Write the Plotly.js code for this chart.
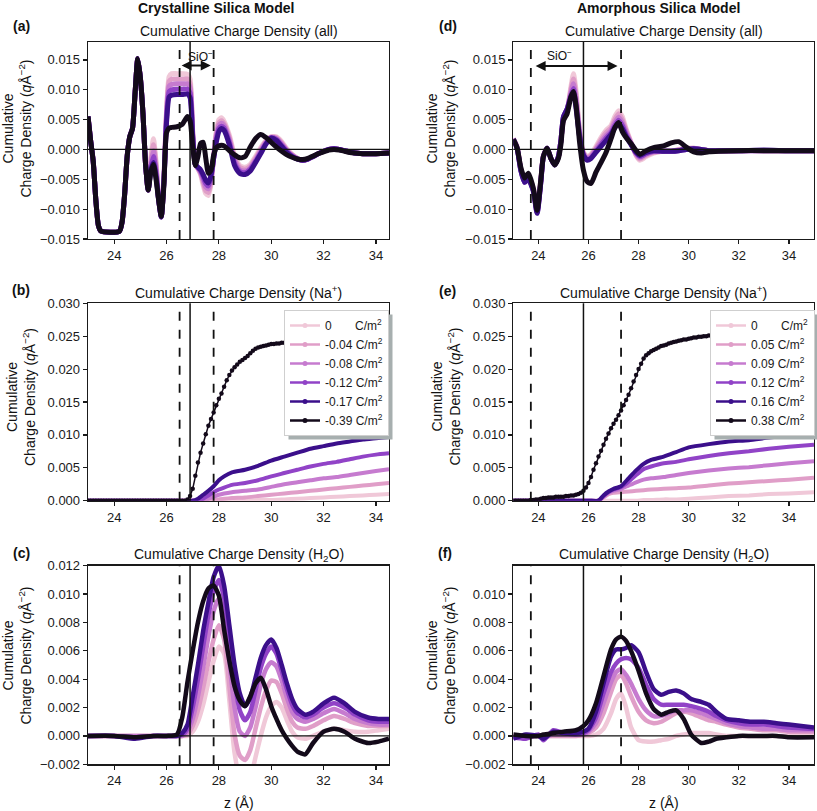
<!DOCTYPE html>
<html><head><meta charset="utf-8">
<script src="https://cdn.plot.ly/plotly-3.0.1.min.js"></script>
<style>html,body{margin:0;padding:0;background:#fff}#chart{width:817px;height:811px}</style>
</head><body><div id="chart"></div>
<script>
// ---------------- DATA ----------------
const colors = ['#f0c8d8','#e09ec8','#c67bcf','#9143c7','#3b0f8b','#130a1a'];
const crysNames = ['0\u2007\u2007\u2007 C/m<sup>2</sup>','-0.04 C/m<sup>2</sup>','-0.08 C/m<sup>2</sup>','-0.12 C/m<sup>2</sup>','-0.17 C/m<sup>2</sup>','-0.39 C/m<sup>2</sup>'];
const amorNames = ['0\u2007\u2007\u2007 C/m<sup>2</sup>','0.05 C/m<sup>2</sup>','0.09 C/m<sup>2</sup>','0.12 C/m<sup>2</sup>','0.16 C/m<sup>2</sup>','0.38 C/m<sup>2</sup>'];
const xTicks = [24,26,28,30,32,34];

// (a) crystalline, all
const zA = [23.0,23.1,23.2,23.3,23.4,23.5,24.2,24.3,24.4,24.5,24.6,24.7,24.8,24.9,25.0,25.1,25.2,25.3,
25.4,25.5,25.6,25.7,25.8,25.9,26.0,26.1,26.2,26.4,26.6,26.8,26.9,27.0,27.1,27.2,27.3,27.4,27.5,27.6,27.7,27.8,27.9,28.0,28.1,28.2,
28.4,28.6,28.8,29.0,29.2,29.4,29.6,29.8,30.0,30.2,30.4,30.6,30.8,31.0,31.2,31.4,31.6,31.8,32.0,32.2,32.4,32.6,32.8,33.0,33.2,33.5,34.0,34.5];
const a0 = [0.0055,0.0015,-0.0020,-0.0085,-0.0128,-0.0137,-0.0137,-0.0122,-0.0075,-0.0010,0.0022,0.0035,0.0095,0.0152,0.0120,0.0060,-0.0025,-0.0068,
-0.0015,0.0018,-0.0020,-0.0082,-0.0113,-0.0050,0.0065,0.0122,0.0127,0.0127,0.0127,0.0126,0.0118,0.0030,-0.0025,-0.0032,-0.0042,-0.0060,-0.0074,-0.0077,-0.0058,-0.0012,0.0030,0.0050,0.0053,0.0047,
0.0024,-0.0010,-0.0027,-0.0030,-0.0025,-0.0012,0.0003,0.0015,0.0021,0.0021,0.0013,0.0001,-0.0008,-0.0015,-0.0018,-0.0016,-0.0012,-0.0007,-0.0003,0.0000,0.0001,0.0000,-0.0002,-0.0004,-0.0006,-0.0007,-0.0007,-0.0006];
const a1 = [0.0055,0.0015,-0.0020,-0.0085,-0.0128,-0.0137,-0.0137,-0.0122,-0.0075,-0.0010,0.0022,0.0035,0.0095,0.0152,0.0120,0.0060,-0.0025,-0.0068,
-0.0020,0.0008,-0.0026,-0.0083,-0.0113,-0.0051,0.0060,0.0114,0.0118,0.0118,0.0118,0.0118,0.0110,0.0028,-0.0025,-0.0032,-0.0040,-0.0055,-0.0069,-0.0072,-0.0054,-0.0013,0.0025,0.0045,0.0048,0.0043,
0.0020,-0.0014,-0.0030,-0.0033,-0.0028,-0.0015,0.0000,0.0013,0.0021,0.0020,0.0011,-0.0001,-0.0009,-0.0015,-0.0018,-0.0016,-0.0012,-0.0007,-0.0003,0.0000,0.0001,0.0000,-0.0002,-0.0004,-0.0006,-0.0007,-0.0007,-0.0006];
const a2 = [0.0055,0.0015,-0.0020,-0.0085,-0.0128,-0.0137,-0.0137,-0.0122,-0.0075,-0.0010,0.0022,0.0035,0.0095,0.0152,0.0120,0.0060,-0.0025,-0.0068,
-0.0025,-0.0002,-0.0032,-0.0084,-0.0113,-0.0052,0.0055,0.0106,0.0109,0.0110,0.0110,0.0110,0.0103,0.0025,-0.0025,-0.0031,-0.0038,-0.0051,-0.0063,-0.0066,-0.0050,-0.0014,0.0021,0.0040,0.0044,0.0040,
0.0016,-0.0018,-0.0034,-0.0036,-0.0031,-0.0018,-0.0002,0.0012,0.0020,0.0018,0.0009,-0.0002,-0.0010,-0.0015,-0.0018,-0.0016,-0.0012,-0.0007,-0.0003,0.0000,0.0001,0.0000,-0.0002,-0.0004,-0.0006,-0.0007,-0.0007,-0.0006];
const a3 = [0.0055,0.0015,-0.0020,-0.0085,-0.0128,-0.0137,-0.0137,-0.0122,-0.0075,-0.0010,0.0022,0.0035,0.0095,0.0152,0.0120,0.0060,-0.0025,-0.0068,
-0.0031,-0.0012,-0.0039,-0.0085,-0.0113,-0.0054,0.0050,0.0097,0.0100,0.0101,0.0101,0.0101,0.0095,0.0022,-0.0025,-0.0030,-0.0036,-0.0046,-0.0057,-0.0061,-0.0046,-0.0015,0.0016,0.0035,0.0039,0.0036,
0.0012,-0.0023,-0.0037,-0.0039,-0.0033,-0.0020,-0.0005,0.0010,0.0020,0.0017,0.0007,-0.0003,-0.0011,-0.0016,-0.0018,-0.0016,-0.0012,-0.0007,-0.0003,0.0000,0.0001,0.0000,-0.0002,-0.0004,-0.0006,-0.0007,-0.0007,-0.0006];
const a4 = [0.0055,0.0015,-0.0020,-0.0085,-0.0128,-0.0137,-0.0137,-0.0122,-0.0075,-0.0010,0.0022,0.0035,0.0095,0.0152,0.0120,0.0060,-0.0025,-0.0068,
-0.0036,-0.0022,-0.0045,-0.0085,-0.0113,-0.0055,0.0045,0.0088,0.0091,0.0092,0.0092,0.0093,0.0087,0.0020,-0.0025,-0.0030,-0.0034,-0.0042,-0.0052,-0.0056,-0.0043,-0.0015,0.0012,0.0030,0.0035,0.0032,
0.0008,-0.0027,-0.0040,-0.0042,-0.0036,-0.0022,-0.0007,0.0009,0.0019,0.0015,0.0005,-0.0005,-0.0012,-0.0016,-0.0018,-0.0016,-0.0012,-0.0007,-0.0003,0.0000,0.0001,0.0000,-0.0002,-0.0004,-0.0006,-0.0007,-0.0007,-0.0006];
const a5 = [0.0055,0.0015,-0.0020,-0.0085,-0.0128,-0.0137,-0.0137,-0.0122,-0.0075,-0.0010,0.0022,0.0035,0.0095,0.0152,0.0120,0.0060,-0.0025,-0.0068,
-0.0038,-0.0025,-0.0050,-0.0085,-0.0112,-0.0060,0.0028,0.0036,0.0037,0.0038,0.0042,0.0055,0.0048,0.0005,-0.0027,-0.0012,0.0010,0.0012,-0.0015,-0.0040,-0.0035,-0.0010,0.0003,0.0006,0.0007,0.0006,
-0.0002,-0.0009,-0.0014,-0.0012,0.0004,0.0018,0.0025,0.0020,0.0012,0.0004,-0.0003,-0.0009,-0.0013,-0.0016,-0.0017,-0.0015,-0.0011,-0.0007,-0.0004,-0.0001,0.0000,-0.0001,-0.0003,-0.0005,-0.0006,-0.0007,-0.0007,-0.0006];

// (b) crystalline, Na+
const zBc = [23.0,26.0,27.0,27.2,27.4,27.6,27.8,28.0,28.2,28.5,29.0,29.5,30.0,30.5,31.0,31.5,32.0,32.5,33.0,33.5,34.0,34.5];
const b0 = [0,0,0,0,0,0,0,0,0,0,0,0.0001,0.0001,0.0002,0.0003,0.0004,0.0005,0.0006,0.0007,0.0008,0.0009,0.0010];
const b1 = [0,0,0,0,0,0,0.0001,0.0002,0.0003,0.0004,0.0005,0.0007,0.0009,0.0011,0.0013,0.0015,0.0017,0.0019,0.0021,0.0023,0.0025,0.0027];
const b2 = [0,0,0,0,0,0.0003,0.0006,0.0009,0.0011,0.0013,0.0015,0.0017,0.0021,0.0025,0.0028,0.0031,0.0034,0.0036,0.0039,0.0042,0.0045,0.0048];
const b3 = [0,0,0,0,0.0003,0.0008,0.0013,0.0017,0.0020,0.0024,0.0027,0.0031,0.0037,0.0042,0.0047,0.0052,0.0056,0.0059,0.0063,0.0067,0.0070,0.0072];
const b4 = [0,0,0,0.0003,0.0009,0.0015,0.0022,0.0031,0.0037,0.0043,0.0047,0.0053,0.0061,0.0067,0.0073,0.0079,0.0083,0.0087,0.0090,0.0093,0.0095,0.0097];
const zBk = [
23.0,23.1,23.2,23.3,23.4,23.5,23.6,23.7,23.8,23.9,
24.0,24.1,24.2,24.3,24.4,24.5,24.6,24.7,24.8,24.9,
25.0,25.1,25.2,25.3,25.4,25.5,25.6,25.7,25.8,25.9,
26.0,26.1,26.2,26.3,26.4,26.5,26.6,26.7,26.8,26.9,
27.0,27.1,27.2,27.3,27.4,27.5,27.6,27.7,27.8,27.9,
28.0,28.1,28.2,28.3,28.4,28.5,28.6,28.7,28.8,28.9,
29.0,29.1,29.2,29.3,29.4,29.5,29.6,29.7,29.8,29.9,
30.0,30.1,30.2,30.3,30.4,30.5,30.6,30.7,30.8,30.9,
31.0,31.1,31.2,31.3,31.4,31.5,31.6,31.7,31.8,31.9,
32.0,32.1,32.2,32.3,32.4,32.5,32.6,32.7,32.8,32.9,
33.0,33.1,33.2,33.3,33.4,33.5,33.6,33.7,33.8,33.9,
34.0,34.1,34.2,34.3,34.4,34.5];
const b5 = [
0,0,0,0,0,0,0,0,0,0,
0,0,0,0,0,0,0,0,0,0,
0,0,0,0,0,0,0,0,0,0,
0,0,0,0,0,0,0,0,0.0002,0.0007,
0.0018,0.0038,0.0058,0.0073,0.0087,0.0101,0.0114,0.0124,0.0134,0.0145,
0.0155,0.0163,0.0173,0.0183,0.0191,0.0198,0.0203,0.0207,0.0211,0.0214,
0.0217,0.0220,0.0224,0.0228,0.0231,0.0233,0.0234,0.0235,0.0236,0.0237,
0.0238,0.0238,0.0239,0.0239,0.0240,0.0240,0.0240,0.0241,0.0241,0.0242,
0.0242,0.0243,0.0243,0.0244,0.0244,0.0244,0.0245,0.0245,0.0246,0.0246,
0.0246,0.0247,0.0247,0.0247,0.0248,0.0248,0.0248,0.0249,0.0249,0.0249,
0.0250,0.0250,0.0250,0.0250,0.0251,0.0251,0.0251,0.0251,0.0251,0.0252,
0.0252,0.0252,0.0252,0.0252,0.0252,0.0252];

// (c) crystalline, H2O
const zC = [23.0,24.0,24.8,25.5,26.0,26.4,26.6,26.8,27.0,27.2,27.4,27.6,27.8,28.0,28.2,28.4,28.6,28.8,29.0,29.2,29.4,29.6,29.8,30.0,30.2,30.4,30.6,30.8,31.0,31.3,31.6,32.0,32.4,32.8,33.2,33.7,34.1,34.5];
const c0 = [0,0,0,0,0,0,0,0.0000,0.0003,0.0010,0.0022,0.0038,0.0053,0.0063,0.0058,0.0025,-0.0012,-0.0030,-0.0036,-0.0030,-0.0015,0.0000,0.0013,0.0021,0.0024,0.0020,0.0011,0.0003,-0.0001,-0.0002,0.0000,0.0003,0.0005,0.0004,0.0003,0.0003,0.0004,0.0005];
const c1 = [0,0,0,0,0,0,0.0000,0.0001,0.0007,0.0018,0.0034,0.0052,0.0068,0.0078,0.0068,0.0035,0.0001,-0.0014,-0.0017,-0.0010,0.0005,0.0020,0.0032,0.0039,0.0038,0.0030,0.0019,0.0010,0.0006,0.0005,0.0007,0.0011,0.0014,0.0012,0.0009,0.0007,0.0007,0.0007];
const c2 = [0,0,0,0,0,0,0.0000,0.0003,0.0012,0.0028,0.0048,0.0070,0.0088,0.0097,0.0084,0.0052,0.0020,0.0003,0.0000,0.0006,0.0020,0.0036,0.0047,0.0052,0.0049,0.0039,0.0027,0.0017,0.0012,0.0010,0.0012,0.0016,0.0019,0.0016,0.0012,0.0009,0.0008,0.0008];
const c3 = [0,0,-0.0001,0,0,0,0.0001,0.0005,0.0020,0.0040,0.0063,0.0085,0.0102,0.0110,0.0097,0.0068,0.0038,0.0018,0.0011,0.0017,0.0032,0.0048,0.0058,0.0063,0.0058,0.0046,0.0033,0.0022,0.0016,0.0013,0.0015,0.0020,0.0023,0.0020,0.0015,0.0011,0.0010,0.0010];
const c4 = [0,0,-0.0002,0,0,0,0.0002,0.0008,0.0028,0.0050,0.0074,0.0094,0.0112,0.0120,0.0106,0.0078,0.0050,0.0030,0.0021,0.0027,0.0041,0.0055,0.0064,0.0068,0.0062,0.0050,0.0037,0.0026,0.0019,0.0015,0.0017,0.0023,0.0027,0.0023,0.0017,0.0013,0.0012,0.0012];
const c5 = [0.0000,0.0000,-0.0001,0.0000,0.0000,0.0001,0.0013,0.0038,0.0060,0.0080,0.0095,0.0104,0.0106,0.0099,0.0075,0.0053,0.0035,0.0025,0.0021,0.0028,0.0037,0.0041,0.0033,0.0021,0.0012,0.0004,-0.0002,-0.0007,-0.0011,-0.0013,-0.0005,0.0003,0.0005,0.0003,-0.0002,-0.0005,-0.0004,-0.0002];

// (d) amorphous, all
const zD = [23.0,23.15,23.3,23.45,23.6,23.8,23.95,24.1,24.2,24.35,24.5,24.65,24.8,24.9,25.0,25.15,25.3,25.4,25.5,25.65,25.8,25.95,26.1,26.3,26.5,26.7,26.9,27.05,27.2,27.35,27.5,27.7,27.9,28.05,28.3,28.6,29.0,29.3,29.6,29.9,30.2,30.5,30.8,31.2,32.0,33.0,34.0,35.0];
const d0 = [0.0018,0.0005,-0.0032,-0.0052,-0.0045,-0.0065,-0.0100,-0.0050,-0.0010,0.0002,-0.0015,-0.0025,-0.0012,0.0015,0.0050,0.0065,0.0105,0.0127,0.0100,0.0030,-0.0005,-0.0012,-0.0008,0.0005,0.0020,0.0032,0.0040,0.0055,0.0065,0.0055,0.0035,0.0012,-0.0010,-0.0018,-0.0012,-0.0006,-0.0003,-0.0003,0.0000,0.0002,0.0002,0.0000,-0.0002,-0.0003,-0.0002,-0.0002,-0.0002,-0.0002];
const d1 = [0.0018,0.0004,-0.0033,-0.0053,-0.0046,-0.0066,-0.0102,-0.0051,-0.0011,0.0002,-0.0015,-0.0025,-0.0012,0.0015,0.0051,0.0066,0.0100,0.0118,0.0092,0.0027,-0.0006,-0.0014,-0.0010,0.0002,0.0016,0.0028,0.0036,0.0050,0.0060,0.0050,0.0032,0.0011,-0.0009,-0.0016,-0.0010,-0.0005,-0.0003,-0.0003,-0.0001,0.0001,0.0002,0.0000,-0.0002,-0.0003,-0.0002,-0.0002,-0.0002,-0.0002];
const d2 = [0.0018,0.0003,-0.0034,-0.0054,-0.0048,-0.0068,-0.0104,-0.0053,-0.0012,0.0002,-0.0015,-0.0025,-0.0012,0.0015,0.0052,0.0067,0.0095,0.0110,0.0085,0.0024,-0.0007,-0.0015,-0.0012,0.0000,0.0012,0.0023,0.0032,0.0045,0.0054,0.0045,0.0029,0.0010,-0.0007,-0.0014,-0.0008,-0.0004,-0.0003,-0.0003,-0.0001,0.0000,0.0001,0.0000,-0.0002,-0.0002,-0.0002,-0.0002,-0.0002,-0.0002];
const d3 = [0.0017,0.0002,-0.0035,-0.0055,-0.0049,-0.0069,-0.0106,-0.0054,-0.0012,0.0002,-0.0015,-0.0026,-0.0012,0.0015,0.0054,0.0068,0.0091,0.0102,0.0078,0.0022,-0.0009,-0.0017,-0.0014,-0.0003,0.0008,0.0019,0.0028,0.0040,0.0049,0.0040,0.0025,0.0009,-0.0006,-0.0012,-0.0007,-0.0003,-0.0003,-0.0003,-0.0002,0.0000,0.0001,0.0000,-0.0002,-0.0002,-0.0002,-0.0002,-0.0002,-0.0002];
const d4 = [0.0017,0.0002,-0.0035,-0.0055,-0.0050,-0.0070,-0.0107,-0.0055,-0.0012,0.0002,-0.0015,-0.0026,-0.0012,0.0015,0.0055,0.0068,0.0088,0.0095,0.0070,0.0020,-0.0010,-0.0018,-0.0015,-0.0005,0.0005,0.0015,0.0025,0.0036,0.0044,0.0035,0.0022,0.0008,-0.0005,-0.0010,-0.0005,-0.0002,-0.0003,-0.0003,-0.0002,0.0000,0.0001,0.0000,-0.0002,-0.0002,-0.0002,-0.0001,-0.0002,-0.0002];
const d5 = [0.0017,0.0003,-0.0030,-0.0048,-0.0040,-0.0065,-0.0102,-0.0050,-0.0012,0.0002,-0.0015,-0.0026,-0.0015,0.0008,0.0048,0.0060,0.0088,0.0097,0.0075,0.0010,-0.0035,-0.0054,-0.0057,-0.0038,-0.0022,-0.0005,0.0018,0.0036,0.0045,0.0030,0.0020,0.0010,-0.0002,-0.0008,-0.0002,0.0003,0.0006,0.0011,0.0013,0.0004,-0.0004,-0.0006,-0.0004,-0.0003,-0.0002,-0.0002,-0.0002,-0.0002];

// (e) amorphous, Na+
const zEc = [23.0,26.0,26.4,26.6,26.8,27.0,27.3,27.6,27.9,28.2,28.5,29.0,29.5,30.0,30.8,31.6,32.4,33.2,34.0,35.0];
const e0 = [0,0,0,0,0,0,0,0,0.0000,0.0001,0.0001,0.0002,0.0002,0.0003,0.0005,0.0007,0.0008,0.0010,0.0011,0.0013];
const e1 = [0,0,0.0000,0.0005,0.0010,0.0012,0.0013,0.0014,0.0015,0.0016,0.0017,0.0018,0.0019,0.0020,0.0023,0.0026,0.0028,0.0030,0.0032,0.0035];
const e2 = [0,0,0.0000,0.0006,0.0012,0.0015,0.0018,0.0023,0.0028,0.0032,0.0034,0.0036,0.0039,0.0042,0.0046,0.0049,0.0051,0.0054,0.0057,0.0060];
const e3 = [0,0,0.0000,0.0007,0.0013,0.0017,0.0021,0.0029,0.0039,0.0048,0.0052,0.0057,0.0059,0.0063,0.0068,0.0072,0.0075,0.0079,0.0082,0.0085];
const e4 = [0,0,0.0000,0.0008,0.0014,0.0018,0.0022,0.0034,0.0046,0.0056,0.0062,0.0067,0.0074,0.0081,0.0086,0.0090,0.0092,0.0096,0.0099,0.0102];
const zEk = [
23.0,23.1,23.2,23.3,23.4,23.5,23.6,23.7,23.8,23.9,
24.0,24.1,24.2,24.3,24.4,24.5,24.6,24.7,24.8,24.9,
25.0,25.1,25.2,25.3,25.4,25.5,25.6,25.7,25.8,25.9,
26.0,26.1,26.2,26.3,26.4,26.5,26.6,26.7,26.8,26.9,
27.0,27.1,27.2,27.3,27.4,27.5,27.6,27.7,27.8,27.9,
28.0,28.1,28.2,28.3,28.4,28.5,28.6,28.7,28.8,28.9,
29.0,29.1,29.2,29.3,29.4,29.5,29.6,29.7,29.8,29.9,
30.0,30.1,30.2,30.3,30.4,30.5,30.6,30.7,30.8,30.9,
31.0,31.1,31.2,31.3,31.4,31.5,31.6,31.7,31.8,31.9,
32.0,32.1,32.2,32.3,32.4,32.5,32.6,32.7,32.8,32.9,
33.0,33.1,33.2,33.3,33.4,33.5,33.6,33.7,33.8,33.9,
34.0,34.1,34.2,34.3,34.4,34.5,34.6,34.7,34.8,34.9,
35.0];
const e5 = [
0,0,0,0,0,0,0,0.0001,0.0001,0.0002,
0.0002,0.0003,0.0004,0.0004,0.0005,0.0005,0.0005,0.0006,0.0006,0.0006,
0.0006,0.0007,0.0007,0.0008,0.0008,0.0009,0.0010,0.0012,0.0015,0.0020,
0.0027,0.0036,0.0047,0.0057,0.0067,0.0076,0.0085,0.0094,0.0102,0.0110,
0.0117,0.0123,0.0130,0.0137,0.0145,0.0153,0.0161,0.0171,0.0181,0.0191,
0.0200,0.0208,0.0216,0.0221,0.0224,0.0227,0.0229,0.0231,0.0233,0.0235,
0.0236,0.0237,0.0239,0.0240,0.0241,0.0242,0.0243,0.0244,0.0245,0.0245,
0.0246,0.0247,0.0248,0.0248,0.0249,0.0249,0.0250,0.0250,0.0251,0.0251,
0.0252,0.0252,0.0253,0.0253,0.0253,0.0254,0.0254,0.0255,0.0255,0.0255,
0.0256,0.0256,0.0256,0.0257,0.0257,0.0257,0.0258,0.0258,0.0258,0.0259,
0.0259,0.0259,0.0260,0.0260,0.0260,0.0261,0.0261,0.0261,0.0261,0.0262,
0.0262,0.0262,0.0262,0.0263,0.0263,0.0263,0.0263,0.0264,0.0264,0.0264,
0.0264];

// (f) amorphous, H2O
const zF = [23.0,23.5,24.0,24.2,24.6,25.0,25.5,25.8,26.0,26.3,26.6,26.9,27.1,27.3,27.5,27.7,28.0,28.3,28.6,28.9,29.2,29.5,29.8,30.1,30.5,30.8,31.1,31.5,32.0,32.5,33.0,33.5,34.0,35.0];
const f0 = [0,0,0,0,0,0,0,0,0,0.0001,0.0005,0.0016,0.0026,0.0030,0.0020,0.0006,-0.0003,-0.0004,-0.0004,-0.0003,-0.0002,0.0000,0.0001,0.0002,0.0002,0.0002,0.0001,0.0000,0,0,0,0,0,0];
const f1 = [0,0,0,0,0,0,0,0.0001,0.0002,0.0006,0.0016,0.0031,0.0040,0.0043,0.0037,0.0028,0.0017,0.0011,0.0009,0.0010,0.0013,0.0016,0.0017,0.0016,0.0013,0.0011,0.0010,0.0008,0.0006,0.0005,0.0004,0.0004,0.0003,0.0003];
const f2 = [-0.0001,0.0000,0.0000,-0.0001,0.0001,0.0001,0.0001,0.0001,0.0003,0.0009,0.0023,0.0038,0.0045,0.0047,0.0043,0.0037,0.0026,0.0018,0.0014,0.0014,0.0016,0.0018,0.0018,0.0018,0.0016,0.0014,0.0012,0.0009,0.0007,0.0006,0.0005,0.0005,0.0004,0.0004];
const f3 = [-0.0001,-0.0002,0.0001,-0.0003,0.0004,0.0002,0.0001,0.0002,0.0004,0.0013,0.0030,0.0045,0.0051,0.0054,0.0055,0.0054,0.0048,0.0036,0.0026,0.0022,0.0022,0.0022,0.0022,0.0021,0.0019,0.0017,0.0014,0.0011,0.0009,0.0008,0.0008,0.0007,0.0006,0.0005];
const f4 = [-0.0002,0.0001,0.0000,-0.0002,0.0003,0.0002,0.0002,0.0003,0.0005,0.0017,0.0037,0.0056,0.0061,0.0061,0.0062,0.0064,0.0059,0.0045,0.0033,0.0029,0.0031,0.0032,0.0030,0.0026,0.0024,0.0022,0.0017,0.0012,0.0011,0.0010,0.0010,0.0009,0.0008,0.0006];
const f5 = [0.0001,0.0000,0.0000,0.0001,0.0002,0.0003,0.0004,0.0007,0.0011,0.0023,0.0042,0.0061,0.0068,0.0070,0.0067,0.0060,0.0046,0.0030,0.0019,0.0015,0.0017,0.0018,0.0012,0.0001,-0.0005,-0.0004,-0.0002,-0.0001,0.0000,0.0000,0.0000,0.0000,-0.0001,-0.0001];

// reference lines (z positions)
const crysLines = {dash1: 26.5, solid: 26.9, dash2: 27.8};
const amorLines = {dash1: 23.7, solid: 25.8, dash2: 27.3};

// ---------------- BUILD ----------------
const W = 817, H = 811;
const FONT = 'Liberation Sans, Arial, Helvetica, sans-serif';
const px = v => v / W, py = v => 1 - v / H;
const colL = [88/W, 389/W], colR = [513.3/W, 814/W];
const row1 = [py(239), py(42)], row2 = [py(500.7), py(303.3)], row3 = [py(764.3), py(565.7)];

const traces = [];
function addLines(xa, ya, zs, ys, width) {
  ys.forEach((y, i) => traces.push({x: zs, y: y, xaxis: xa, yaxis: ya, type: 'scatter', mode: 'lines',
    line: {color: colors[i], width: width, shape: 'spline', smoothing: 0.6}, showlegend: false, hoverinfo: 'skip'}));
}
function addNa(xa, ya, zc, ycs, zk, yk, names, legendId) {
  ycs.forEach((y, i) => traces.push({x: zc, y: y, xaxis: xa, yaxis: ya, type: 'scatter', mode: 'lines',
    line: {color: colors[i], width: 4, shape: 'spline', smoothing: 0.5}, showlegend: false, hoverinfo: 'skip'}));
  traces.push({x: zk, y: yk, xaxis: xa, yaxis: ya, type: 'scatter', mode: 'lines+markers',
    line: {color: colors[5], width: 1.5}, marker: {color: colors[5], size: 4.5}, showlegend: false, hoverinfo: 'skip'});
  names.forEach((n, i) => traces.push({x: [null], y: [null], xaxis: xa, yaxis: ya, type: 'scatter', mode: 'lines+markers',
    name: n, legend: legendId, line: {color: colors[i], width: 2.5}, marker: {color: colors[i], size: 5}, showlegend: true}));
}
addLines('x', 'y', zA, [a0, a1, a2, a3, a4, a5], 5);
addNa('x2', 'y2', zBc, [b0, b1, b2, b3, b4], zBk, b5, crysNames, 'legend');
addLines('x3', 'y3', zC, [c0, c1, c2, c3, c4, c5], 4.5);
addLines('x4', 'y4', zD, [d0, d1, d2, d3, d4, d5], 5);
addNa('x5', 'y5', zEc, [e0, e1, e2, e3, e4], zEk, e5, amorNames, 'legend2');
addLines('x6', 'y6', zF, [f0, f1, f2, f3, f4, f5], 4.5);

function fmt(v, d) { const s = Math.abs(v).toFixed(d); return (v < 0 ? '\u2212' : '') + s; }
const yAll = [-0.015, -0.010, -0.005, 0, 0.005, 0.010, 0.015];
const yNa = [0, 0.005, 0.010, 0.015, 0.020, 0.025, 0.030];
const yH2Oc = [-0.002, 0, 0.002, 0.004, 0.006, 0.008, 0.010, 0.012];
const yH2Of = [-0.002, 0, 0.002, 0.004, 0.006, 0.008, 0.010];

function axisBase(domain, anchor) {
  return {domain: domain, anchor: anchor, showline: true, mirror: true, linecolor: '#1a1a1a', linewidth: 1.3,
    ticks: 'outside', ticklen: 4, tickwidth: 1.2, tickcolor: '#1a1a1a', showgrid: false, zeroline: false,
    tickfont: {family: FONT, size: 13, color: '#1a1a1a'}, fixedrange: true};
}
function xAx(domain, anchor, range) {
  return Object.assign(axisBase(domain, anchor), {range: range, tickmode: 'array', tickvals: xTicks, ticktext: xTicks.map(String)});
}
function yAx(domain, anchor, range, vals) {
  return Object.assign(axisBase(domain, anchor), {range: range, tickmode: 'array', tickvals: vals, ticktext: vals.map(v => fmt(v, 3))});
}

const legendBase = {xanchor: 'left', yanchor: 'top', bgcolor: '#fff', bordercolor: '#cfcfcf', borderwidth: 1,
  font: {family: FONT, size: 12, color: '#1a1a1a'}, tracegroupgap: 0, itemwidth: 30};
const layout = {
  width: W, height: H, margin: {l: 0, r: 0, t: 0, b: 0}, paper_bgcolor: '#fff', plot_bgcolor: '#fff',
  font: {family: FONT, color: '#1a1a1a'},
  xaxis: xAx(colL, 'y', [23, 34.5]), yaxis: yAx(row1, 'x', [-0.015, 0.018], yAll),
  xaxis2: xAx(colL, 'y2', [23, 34.5]), yaxis2: yAx(row2, 'x2', [0, 0.030], yNa),
  xaxis3: xAx(colL, 'y3', [23, 34.5]), yaxis3: yAx(row3, 'x3', [-0.002, 0.012], yH2Oc),
  xaxis4: xAx(colR, 'y4', [23, 35]), yaxis4: yAx(row1, 'x4', [-0.015, 0.018], yAll),
  xaxis5: xAx(colR, 'y5', [23, 35]), yaxis5: yAx(row2, 'x5', [0, 0.030], yNa),
  xaxis6: xAx(colR, 'y6', [23, 35]), yaxis6: yAx(row3, 'x6', [-0.002, 0.012], yH2Of),
  legend: Object.assign({x: px(284), y: py(310)}, legendBase),
  legend2: Object.assign({x: px(710), y: py(310)}, legendBase),
  shapes: [], annotations: []
};

// vertical reference lines and zero lines
[['x','y'],['x2','y2'],['x3','y3']].forEach(([xa, ya]) => {
  [['dash1','dash',1.8],['solid','solid',1.5],['dash2','dash',1.8]].forEach(([k, d, w]) =>
    layout.shapes.push({type: 'line', xref: xa, yref: ya + ' domain', x0: crysLines[k], x1: crysLines[k], y0: 0, y1: 1,
      line: {color: '#111', width: w, dash: d}, layer: 'above'}));
});
[['x4','y4'],['x5','y5'],['x6','y6']].forEach(([xa, ya]) => {
  [['dash1','dash',1.8],['solid','solid',1.5],['dash2','dash',1.8]].forEach(([k, d, w]) =>
    layout.shapes.push({type: 'line', xref: xa, yref: ya + ' domain', x0: amorLines[k], x1: amorLines[k], y0: 0, y1: 1,
      line: {color: '#111', width: w, dash: d}, layer: 'above'}));
});
[['x','y'],['x3','y3'],['x4','y4'],['x6','y6']].forEach(([xa, ya]) =>
  layout.shapes.push({type: 'line', xref: xa + ' domain', yref: ya, x0: 0, x1: 1, y0: 0, y1: 0,
    line: {color: '#111', width: 1.3}, layer: 'above'}));

const A = layout.annotations;
function txt(x, y, text, size, extra) {
  A.push(Object.assign({xref: 'paper', yref: 'paper', x: px(x), y: py(y), text: text, showarrow: false,
    xanchor: 'center', yanchor: 'middle', font: {family: FONT, size: size, color: '#111'}}, extra || {}));
}
txt(215.8, 8, '<b>Crystalline Silica Model</b>', 14);
txt(658.8, 8, '<b>Amorphous Silica Model</b>', 14);
[['(a)',21,26],['(b)',21,290],['(c)',21,553],['(d)',448,26],['(e)',447,291],['(f)',445,553]].forEach(([t,x,y]) => txt(x, y, '<b>' + t + '</b>', 14));
txt(238.5, 31, 'Cumulative Charge Density (all)', 14);
txt(663.7, 31, 'Cumulative Charge Density (all)', 14);
txt(238.5, 292, 'Cumulative Charge Density (Na<sup>+</sup>)', 14);
txt(663.7, 292, 'Cumulative Charge Density (Na<sup>+</sup>)', 14);
txt(238.5, 555, 'Cumulative Charge Density (H<sub>2</sub>O)', 14);
txt(663.7, 555, 'Cumulative Charge Density (H<sub>2</sub>O)', 14);
const yTitle = 'Cumulative<br>Charge Density (<i>q</i>Å<sup>\u22122</sup>)';
[[16.5,129],[21,397],[16.5,656],[440.5,129],[445.5,397],[440.5,656]].forEach(([x,y]) => txt(x, y, yTitle, 14, {textangle: -90}));
txt(238.5, 803, 'z (Å)', 14);
txt(663.7, 803, 'z (Å)', 14);

// SiO- arrows
A.push({xref: 'x', yref: 'y', axref: 'x', ayref: 'y', x: 27.69, y: 0.01405, ax: 26.52, ay: 0.01405, text: '', showarrow: true,
  arrowside: 'end+start', arrowhead: 2, arrowsize: 1, arrowwidth: 2, arrowcolor: '#111'});
A.push({xref: 'x', yref: 'y', x: 27.28, y: 0.0157, text: 'SiO<sup>\u2212</sup>', showarrow: false, font: {family: FONT, size: 12, color: '#111'}});
A.push({xref: 'x4', yref: 'y4', axref: 'x4', ayref: 'y4', x: 27.16, y: 0.0140, ax: 23.83, ay: 0.0140, text: '', showarrow: true,
  arrowside: 'end+start', arrowhead: 2, arrowsize: 1, arrowwidth: 2, arrowcolor: '#111'});
A.push({xref: 'x4', yref: 'y4', x: 24.86, y: 0.0158, text: 'SiO<sup>\u2212</sup>', showarrow: false, font: {family: FONT, size: 12, color: '#111'}});

Plotly.newPlot('chart', traces, layout, {staticPlot: true, displayModeBar: false}).then(gd => {
  // matplotlib-style legend shadow, placed behind each rendered legend box
  const gb = gd.getBoundingClientRect();
  const extra = [];
  gd.querySelectorAll('g.legend rect.bg, g.legend2 rect.bg').forEach(r => {
    const b = r.getBoundingClientRect();
    const off = 4;
    extra.push({type: 'rect', xref: 'paper', yref: 'paper',
      x0: px(b.left - gb.left + off), x1: px(b.right - gb.left + off),
      y0: py(b.bottom - gb.top + off), y1: py(b.top - gb.top + off),
      fillcolor: '#a7afaf', line: {width: 0}, layer: 'above'});
  });
  if (extra.length) Plotly.relayout(gd, {shapes: layout.shapes.concat(extra)});
});
</script></body></html>
